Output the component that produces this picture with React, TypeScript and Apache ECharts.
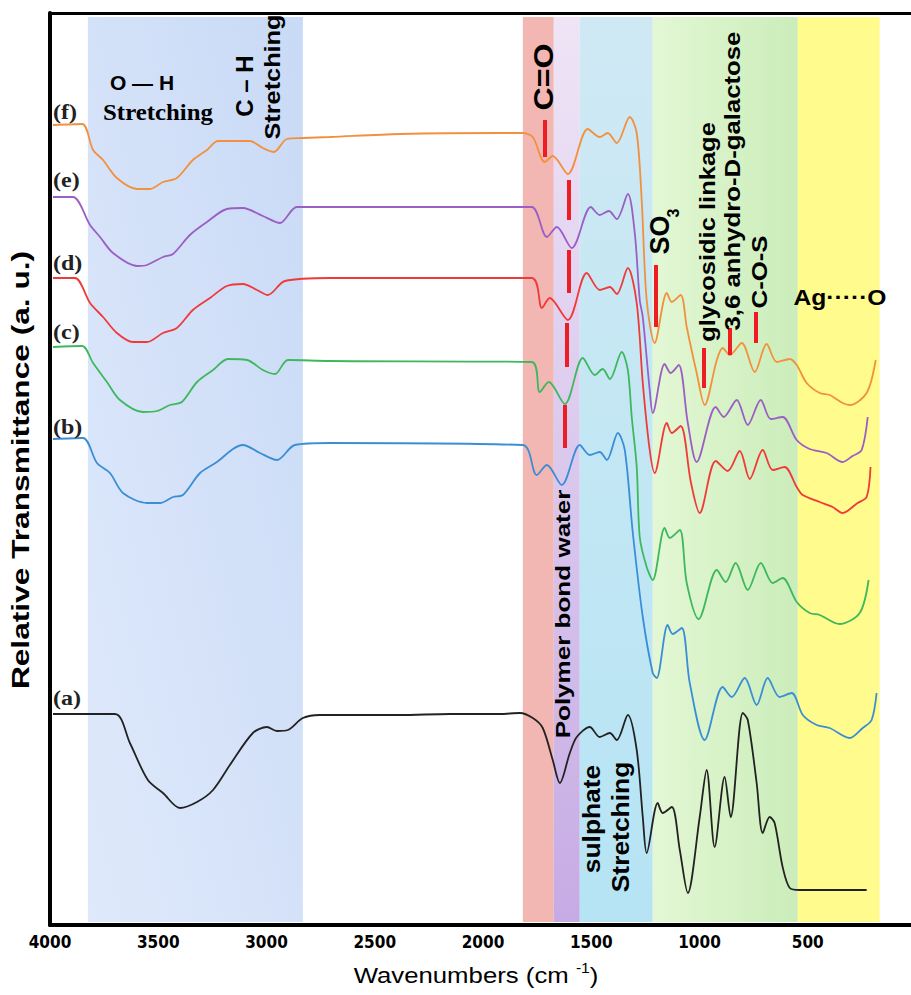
import React, { useEffect, useRef } from "react";
import * as echarts from "echarts";

// ---- Data (wavenumber cm-1, relative transmittance a.u.) ----
const curveF: [number, number][] = [
  [3986, 800], [3852, 801], [3801, 775], [3755, 765], [3691, 747], [3598, 736], [3538, 736], [3478, 743],
  [3414, 747], [3340, 765], [3275, 775], [3224, 784], [3077, 784], [3017, 777], [2966, 773], [2906, 786],
  [2832, 787], [2707, 788], [2384, 791], [1922, 792], [1816, 792], [1770, 788], [1715, 763], [1678, 769],
  [1608, 751], [1516, 796], [1461, 788], [1424, 792], [1382, 782], [1322, 808], [1290, 792], [1267, 725],
  [1244, 625], [1207, 582], [1151, 632], [1128, 623], [1087, 630], [1059, 598], [1013, 552], [976, 520],
  [920, 565], [893, 577], [860, 570], [805, 582], [745, 553], [690, 581], [643, 563], [583, 566],
  [551, 560], [505, 542], [445, 532], [399, 530], [339, 522], [306, 520], [228, 532], [186, 565],
];
const curveE: [number, number][] = [
  [3986, 728], [3894, 728], [3815, 700], [3769, 688], [3709, 672], [3598, 659], [3552, 660], [3478, 668],
  [3432, 671], [3354, 690], [3275, 703], [3183, 716], [3109, 717], [3017, 709], [2938, 702], [2860, 718],
  [2707, 718], [1922, 718], [1775, 718], [1705, 688], [1659, 698], [1590, 677], [1502, 718], [1461, 710],
  [1419, 714], [1382, 706], [1331, 731], [1299, 692], [1276, 625], [1262, 608], [1230, 535], [1216, 512],
  [1161, 561], [1133, 552], [1096, 560], [1054, 502], [1013, 463], [925, 518], [888, 508], [828, 525],
  [777, 500], [717, 525], [671, 506], [616, 508], [551, 485], [491, 476], [413, 472], [339, 463],
  [293, 469], [251, 475], [223, 508],
];
const curveD: [number, number][] = [
  [3986, 647], [3885, 647], [3815, 622], [3755, 608], [3691, 592], [3617, 583], [3552, 583], [3478, 592],
  [3414, 597], [3340, 615], [3261, 627], [3183, 639], [3109, 641], [3044, 635], [2994, 630], [2915, 644],
  [2707, 647], [1775, 647], [1728, 617], [1692, 627], [1608, 605], [1521, 652], [1461, 635], [1414, 638],
  [1382, 631], [1331, 657], [1290, 622], [1262, 542], [1230, 475], [1207, 452], [1151, 502], [1128, 492],
  [1087, 499], [1040, 443], [999, 412], [925, 464], [870, 454], [814, 474], [768, 446], [708, 475],
  [662, 455], [607, 458], [551, 438], [523, 430], [445, 423], [385, 418], [339, 412], [270, 422],
  [228, 428], [210, 458],
];
const curveC: [number, number][] = [
  [3986, 578], [3852, 579], [3801, 562], [3737, 543], [3677, 525], [3571, 513], [3506, 514], [3446, 520],
  [3391, 523], [3321, 543], [3247, 555], [3178, 566], [3090, 565], [3017, 555], [2961, 551], [2901, 565],
  [2707, 564], [1775, 563], [1738, 533], [1696, 543], [1622, 521], [1539, 567], [1484, 550], [1447, 556],
  [1414, 546], [1359, 573], [1331, 555], [1313, 508], [1290, 458], [1276, 388], [1244, 358], [1216, 345],
  [1161, 397], [1137, 387], [1091, 395], [1059, 342], [1004, 306], [920, 355], [879, 343], [833, 362],
  [777, 335], [717, 362], [662, 342], [616, 347], [551, 323], [491, 312], [445, 310], [353, 301],
  [260, 312], [219, 345],
];
const curveB: [number, number][] = [
  [3986, 486], [3848, 487], [3783, 462], [3723, 452], [3663, 432], [3552, 422], [3492, 422], [3432, 428],
  [3386, 430], [3307, 452], [3229, 463], [3155, 476], [3109, 480], [3030, 472], [2952, 465], [2869, 480],
  [2707, 482], [1816, 480], [1752, 450], [1705, 460], [1636, 440], [1553, 480], [1507, 470], [1461, 473],
  [1428, 465], [1377, 492], [1345, 475], [1308, 392], [1262, 308], [1216, 252], [1198, 247], [1147, 300],
  [1124, 291], [1082, 297], [1045, 242], [976, 185], [893, 238], [851, 228], [791, 247], [736, 220],
  [685, 247], [630, 228], [574, 232], [523, 210], [459, 200], [399, 197], [306, 187], [246, 197],
  [205, 205], [182, 232],
];
const curveA: [number, number][] = [
  [3986, 211], [3700, 211], [3631, 182], [3548, 145], [3478, 132], [3400, 117], [3321, 123], [3247, 135],
  [3169, 160], [3063, 192], [2998, 198], [2952, 194], [2901, 195], [2832, 207], [2753, 210], [2384, 210],
  [2153, 211], [1922, 211], [1830, 212], [1770, 207], [1724, 197], [1678, 165], [1645, 142], [1599, 172],
  [1567, 188], [1507, 198], [1461, 188], [1414, 192], [1382, 185], [1331, 210], [1290, 175], [1262, 108],
  [1244, 72], [1193, 122], [1170, 112], [1128, 118], [1091, 75], [1054, 32], [999, 108], [967, 155],
  [930, 78], [884, 148], [856, 108], [800, 212], [777, 205], [736, 142], [708, 92], [676, 108],
  [653, 102], [616, 58], [583, 37], [537, 35], [228, 35],
];

const curveNames = ["(a)", "(b)", "(c)", "(d)", "(e)", "(f)"];

// shaded wavenumber regions [from, to]
const bandRanges: [number, number][] = [
  [3825, 2832], [1816, 1673], [1673, 1553], [1553, 1216], [1216, 546], [546, 168],
];

// red marker ticks: [wavenumber, from, to]
const markerTicks: [number, number, number][] = [
  [1715, 805, 768], [1604, 745, 705], [1604, 675, 632], [1613, 602, 558], [1622, 520, 477],
  [1202, 660, 598], [980, 577, 537], [860, 597, 570], [740, 613, 582],
];

const X_MIN = 0;
const X_MAX = 4000;
const X_STEP = 500;
const Y_MAX = 912;

const SANS = '"Liberation Sans", Arial, Helvetica, sans-serif';
const SERIF = '"Liberation Serif", "Times New Roman", serif';
const NARROW = '"Liberation Sans Narrow", "Arial Narrow", "DejaVu Sans Condensed", "Liberation Sans", sans-serif';

const lin = (x0: number, y0: number, x1: number, y1: number, c0: string, c1: string) => ({
  type: "linear", x: x0, y: y0, x2: x1, y2: y1,
  colorStops: [{ offset: 0, color: c0 }, { offset: 1, color: c1 }],
});

const bandColors: any[] = [
  lin(0, 1, 1, 0, "#dfe9fb", "#c9daf6"),
  "#f2b7b3",
  lin(0, 0, 0, 1, "#efe5f6", "#c6abe4"),
  lin(0, 0, 0, 1, "#cfe9f4", "#b6e4f4"),
  lin(0, 0, 1, 0, "#e3f7d4", "#cbedba"),
  "#fffb8c",
];

type Ann = { text: string; x: number; y: number; rot?: boolean; size: number; sx?: number; serif?: boolean };

const annotations: Ann[] = [
  { text: "Relative Transmittance (a. u.)", x: 21, y: 470, rot: true, size: 24, sx: 1.32 },
  { text: "O — H", x: 142, y: 82, size: 21 },
  { text: "Stretching", x: 158, y: 112, size: 23, sx: 1.08, serif: true },
  { text: "C – H", x: 244, y: 86, rot: true, size: 24 },
  { text: "Stretching", x: 273, y: 77, rot: true, size: 22, sx: 1.15 },
  { text: "C=O", x: 543, y: 77, rot: true, size: 27, sx: 1.19 },
  { text: "Polymer bond water", x: 563, y: 614, rot: true, size: 21, sx: 1.24 },
  { text: "sulphate", x: 591, y: 819, rot: true, size: 24, sx: 1.1 },
  { text: "Stretching", x: 620, y: 827, rot: true, size: 24, sx: 1.1 },
  { text: "SO", x: 660, y: 235, rot: true, size: 27 },
  { text: "3", x: 673, y: 213, rot: true, size: 16 },
  { text: "glycosidic linkage", x: 707, y: 232, rot: true, size: 22, sx: 1.16 },
  { text: "3,6 anhydro-D-galactose", x: 732, y: 181, rot: true, size: 22, sx: 1.17 },
  { text: "C-O-S", x: 759, y: 272, rot: true, size: 22, sx: 1.17 },
  { text: "Ag·····O", x: 840, y: 297, size: 22, sx: 1.12 },
];

const labelYs = [698, 427, 332, 263, 180, 112];

export default function App() {
  const ref = useRef<HTMLDivElement>(null);
  useEffect(() => {
    if (!ref.current) return;
    const chart = echarts.init(ref.current, null, { renderer: "svg" });

    const curves = [curveA, curveB, curveC, curveD, curveE, curveF];
    const colors = ["#222222", "#3a8ed6", "#3db85c", "#f03a3a", "#9b5fc4", "#f2913d"];

    const series: any[] = curves.map((c, i) => ({
      type: "line",
      name: curveNames[i],
      data: c,
      smooth: 0.3,
      symbol: "none",
      z: 3,
      lineStyle: { color: colors[i], width: 1.8 },
      silent: true,
    }));

    series[0].markArea = {
      silent: true,
      data: bandRanges.map((b, i) => [
        { xAxis: b[0], yAxis: 3, itemStyle: { color: bandColors[i] } },
        { xAxis: b[1], yAxis: 908 },
      ]),
    };
    series[0].markLine = {
      silent: true,
      symbol: ["none", "none"],
      label: { show: false },
      lineStyle: { color: "#ee1d23", width: 4, type: "solid" },
      data: markerTicks.map((m) => [{ coord: [m[0], m[1]] }, { coord: [m[0], m[2]] }]),
    };

    const graphics: any[] = annotations.map((a) => ({
      type: "text",
      x: a.x,
      y: a.y,
      rotation: a.rot ? Math.PI / 2 : 0,
      scaleX: a.sx ?? 1,
      z: 100,
      silent: true,
      style: {
        text: a.text,
        fontSize: a.size,
        fontWeight: "bold",
        fontFamily: a.serif ? SERIF : SANS,
        fill: "#000",
        align: "center",
        verticalAlign: "middle",
      },
    }));
    curveNames.forEach((n, i) => {
      graphics.push({
        type: "text",
        x: 53,
        y: labelYs[i],
        scaleX: 1.2,
        z: 100,
        silent: true,
        style: {
          text: n,
          fontSize: 20,
          fontWeight: "bold",
          fontFamily: SERIF,
          fill: "#222",
          align: "left",
          verticalAlign: "middle",
        },
      });
    });
    graphics.push({
      type: "text",
      x: 476,
      y: 975,
      scaleX: 1.12,
      z: 100,
      silent: true,
      style: {
        text: "{m|Wavenumbers (cm }{s|-1}{m|)}",
        fill: "#000",
        align: "center",
        verticalAlign: "middle",
        rich: {
          m: { fontSize: 23, fontFamily: SANS, lineHeight: 28, fill: "#000" },
          s: { fontSize: 14, fontFamily: SANS, lineHeight: 14, verticalAlign: "top", fill: "#000" },
        },
      },
    });

    chart.setOption({
      animation: false,
      backgroundColor: "#ffffff",
      grid: { left: 50, right: -5, top: 13, bottom: 70, containLabel: false, outerBoundsMode: "none" },
      xAxis: [
        {
          type: "value",
          min: X_MIN,
          max: X_MAX,
          interval: X_STEP,
          inverse: true,
          axisLine: { onZero: false, lineStyle: { color: "#000", width: 4 } },
          axisTick: { show: false },
          splitLine: { show: false },
          axisLabel: {
            color: "#000",
            fontSize: 17,
            fontWeight: "bold",
            fontFamily: NARROW,
            margin: 8,
            formatter: (v: number) => String(v),
          },
        },
        {
          type: "value",
          position: "top",
          min: X_MIN,
          max: X_MAX,
          inverse: true,
          axisLine: { onZero: false, lineStyle: { color: "#000", width: 3 } },
          axisTick: { show: false },
          splitLine: { show: false },
          axisLabel: { show: false },
        },
      ],
      yAxis: {
        type: "value",
        min: 0,
        max: Y_MAX,
        axisLine: { show: true, onZero: false, lineStyle: { color: "#000", width: 4 } },
        axisTick: { show: false },
        axisLabel: { show: false },
        splitLine: { show: false },
      },
      series,
      graphic: graphics,
    });
    return () => chart.dispose();
  }, []);
  return (
    <div
      ref={ref}
      style={{ position: "fixed", left: 0, top: 0, width: 911, height: 995, background: "#fff" }}
    />
  );
}
